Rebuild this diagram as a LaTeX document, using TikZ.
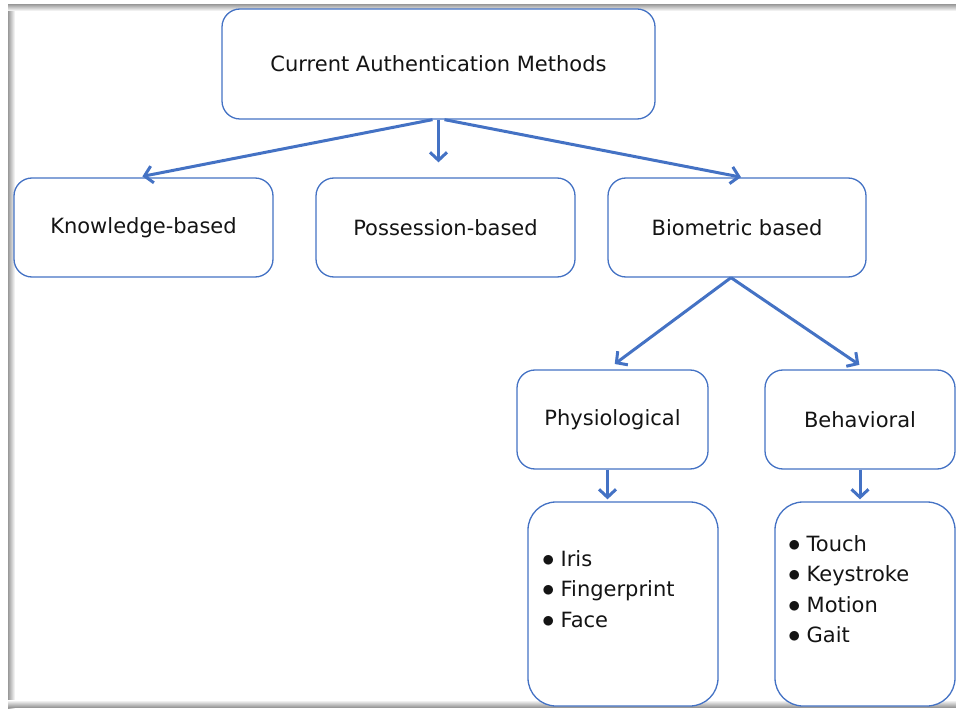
\documentclass[tikz,border=0pt]{standalone}
\usepackage{fontspec}
\setmainfont{DejaVu Sans}
\usetikzlibrary{arrows.meta}
\definecolor{boxblue}{RGB}{68,114,196}
\definecolor{txtgray}{RGB}{20,20,20}
\tikzset{
  methbox/.style={draw=boxblue, line width=1.3pt, fill=white, rounded corners=18pt,
    inner sep=0pt, text=txtgray, font=\fontsize{21}{30}\selectfont},
  listbox/.style={methbox, rounded corners=28pt, minimum width=190pt, minimum height=204pt},
  listtext/.style={anchor=north west, align=left, inner sep=0pt, text=txtgray,
    font=\fontsize{21}{30.5}\selectfont},
  conn/.style={draw=boxblue, line width=3pt, -{Straight Barb[length=8pt,width=17pt]}}
}
\newcommand{\itemdot}{{\fontsize{25}{25}\selectfont$\bullet$}\hspace{6pt}}
\begin{document}
\begin{tikzpicture}[x=1pt, y=-1pt]
\def\h{99pt}
\useasboundingbox (0,0) rectangle (956,711);
% screenshot frame
\shade[left color=gray!80, right color=white] (8,5) rectangle (15,708);
\shade[top color=gray!70, bottom color=white] (8,5) rectangle (956,11);
\shade[top color=white, bottom color=gray!80] (8,700) rectangle (956,707);
\node [methbox, minimum width=433pt, minimum height=110pt, name=cam]   at (438.5,64)  {Current Authentication Methods};
\node [methbox, minimum width=259pt, minimum height=\h, name=know]     at (143.5,227.5) {Knowledge-based};
\node [methbox, minimum width=259pt, minimum height=\h, name=poss]     at (445.5,227.5) {Possession-based};
\node [methbox, minimum width=258pt, minimum height=\h, name=bio]      at (737,227.5)   {Biometric based};
\node [methbox, minimum width=191pt, minimum height=\h, name=phys]     at (612.5,419.5) {Physiological};
\node [methbox, minimum width=190pt, minimum height=\h, name=beh]      at (860,419.5)   {Behavioral};
\node [listbox, name=physlist]                                          at (623,604) {};
\node [listbox, minimum width=180pt, name=behlist]                      at (865,604) {};
\node [listtext, name=physitems] at (542,550) {\itemdot Iris\\\itemdot Fingerprint\\\itemdot Face};
\node [listtext, name=behitems]  at (788,535) {\itemdot Touch\\\itemdot Keystroke\\\itemdot Motion\\\itemdot Gait};
\draw [conn, shorten >=5pt] ([xshift=-6pt]cam.south) -- ([xshift=-6pt]know.north);
\draw [conn, shorten >=15pt] (cam.south) -- (cam.south |- poss.north);
\draw [conn, shorten >=1pt] ([xshift=6pt]cam.south) -- ([xshift=5pt]bio.north);
\draw [conn, shorten >=9pt] ([xshift=-6pt]bio.south) -- ([xshift=-5pt]phys.north);
\draw [conn, shorten >=8pt] ([xshift=-6pt]bio.south) -- ([xshift=6pt]beh.north);
\draw [conn, shorten >=2pt] ([xshift=-5pt]phys.south) -- ([xshift=-5pt]phys.south |- physlist.north);
\draw [conn, shorten >=2pt] (beh.south) -- (beh.south |- behlist.north);
\end{tikzpicture}
\end{document}
